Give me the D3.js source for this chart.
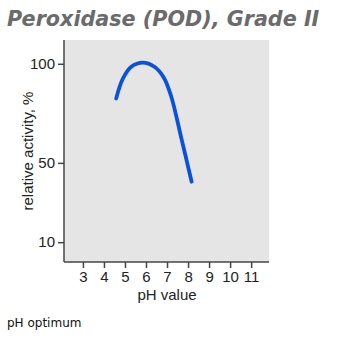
<!DOCTYPE html>
<html><head><meta charset="utf-8">
<script src="https://cdn.jsdelivr.net/npm/d3@7"></script>
<style>body{margin:0;background:#fff}</style>
</head><body>
<svg id="c" width="340" height="337"></svg>
<script>
const title = "Peroxidase (POD), Grade II";
const footnote = "pH optimum";
const xLabel = "pH value";
const yLabel = "relative activity, %";
const xTicks = [3,4,5,6,7,8,9,10,11];
const yTicks = [10,50,100];
const phValues = [4.58, 4.9, 5.3, 5.85, 6.4, 6.85, 7.2, 7.7, 8.17];
const activity = [82.5, 92.5, 98.5, 100.6, 98.5, 93, 83.5, 61.6, 40.5];

const svg = d3.select("#c");
const L = 64, R = 269, T = 40, B = 262;
const x = d3.scaleLinear().domain([2.1, 11.85]).range([L, R]);
const y = d3.scaleLinear().domain([0, 112]).range([B, T]);

svg.append("rect").attr("x", L).attr("y", T).attr("width", R - L).attr("height", B - T).attr("fill", "#e5e5e5");

svg.append("text").attr("x", 7).attr("y", 26).text(title)
  .attr("font-family", "DejaVu Sans").attr("font-weight", "bold").attr("font-style", "italic")
  .attr("font-size", 20.7).attr("fill", "#6b6b6b");

const font = "Liberation Sans, Arial, sans-serif";
const xa = svg.append("g").attr("transform", `translate(0,${B})`)
  .call(d3.axisBottom(x).tickValues(xTicks).tickSize(6).tickPadding(3).tickSizeOuter(0));
const ya = svg.append("g").attr("transform", `translate(${L},0)`)
  .call(d3.axisLeft(y).tickValues(yTicks).tickSize(6).tickPadding(3).tickSizeOuter(0));
[xa, ya].forEach(g => {
  g.select(".domain").attr("stroke", "#444").attr("stroke-width", 1.5);
  g.selectAll(".tick line").attr("stroke", "#444").attr("stroke-width", 1.5);
  g.selectAll("text").attr("font-family", font).attr("font-size", 15).attr("fill", "#222");
});
xa.select(".domain").attr("d", `M${L},0H${R}`);
ya.select(".domain").attr("d", `M0,${B}V${T}`);

svg.append("text").attr("x", (x(3) + x(11)) / 2).attr("y", 300).attr("text-anchor", "middle")
  .text(xLabel).attr("font-family", font).attr("font-size", 15).attr("fill", "#222");
svg.append("text").attr("transform", `translate(33,${(T + B) / 2}) rotate(-90)`).attr("text-anchor", "middle")
  .text(yLabel).attr("font-family", font).attr("font-size", 15).attr("fill", "#222");

const pts = phValues.map((p, i) => [p, activity[i]]);
svg.append("path").datum(pts)
  .attr("d", d3.line().x(d => x(d[0])).y(d => y(d[1])).curve(d3.curveCatmullRom.alpha(0.5)))
  .attr("fill", "none").attr("stroke", "#0a52d8").attr("stroke-width", 3.8).attr("stroke-linecap", "round");

svg.append("text").attr("x", 7).attr("y", 327).text(footnote)
  .attr("font-family", "DejaVu Sans").attr("font-size", 12).attr("fill", "#111");
</script>
</body></html>
